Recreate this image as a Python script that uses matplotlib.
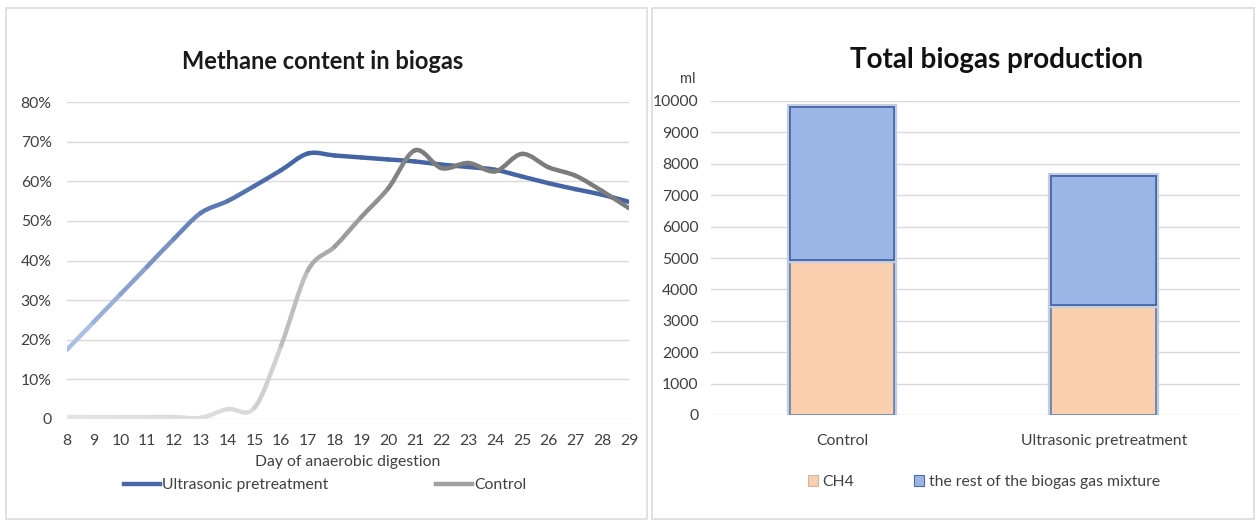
import matplotlib.pyplot as plt
import numpy as np
from matplotlib.path import Path
from matplotlib.patches import PathPatch, Rectangle
from matplotlib.lines import Line2D
import matplotlib.patheffects as pe
from matplotlib.colors import to_rgb

plt.rcParams['font.family'] = ['Lato', 'DejaVu Sans']

# methane content, % of biogas, per day of digestion
days = np.arange(8, 30)
ultrasonic = [17.5, 24.5, 31.5, 38.5, 45.5, 52.0, 55.0, 58.8, 62.8, 67.0, 66.5,
              66.0, 65.5, 65.0, 64.2, 63.6, 62.9, 61.2, 59.5, 58.0, 56.6, 54.8]
control = [0.5, 0.5, 0.5, 0.5, 0.5, 0.3, 2.5, 2.8, 18.5, 37.5, 43.5,
           51.0, 58.2, 67.8, 63.3, 64.6, 62.5, 66.9, 63.5, 61.4, 57.5, 53.2]
pct_ticks = [0, 10, 20, 30, 40, 50, 60, 70, 80]
pct_labels = ['0', '10%', '20%', '30%', '40%', '50%', '60%', '70%', '80%']

# total biogas, ml
groups = ['Control', 'Ultrasonic pretreatment']
ch4 = [4950, 3500]
rest = [4850, 4100]
ml_ticks = list(range(0, 10001, 1000))

TXT = '#404040'
GRID = '#d9d9d9'
FS = 11.3


def smooth_segments(x, y):
    # one cubic bezier per interval, excel-style smoothing
    pts = np.column_stack([x, y]).astype(float)
    padded = np.vstack([pts[0], pts, pts[-1]])
    segs = []
    for i in range(len(pts) - 1):
        p0, p1, p2, p3 = padded[i], padded[i + 1], padded[i + 2], padded[i + 3]
        c1 = p1 + (p2 - p0) / 6
        c2 = p2 - (p3 - p1) / 6
        segs.append(Path([p1, c1, c2, p2],
                         [Path.MOVETO, Path.CURVE4, Path.CURVE4, Path.CURVE4]))
    return segs


def mix(c1, c2, t):
    a, b = np.array(to_rgb(c1)), np.array(to_rgb(c2))
    return tuple(a + (b - a) * t)


def draw_fading(ax, x, y, light, dark, stops, weights):
    for i, seg in enumerate(smooth_segments(x, y)):
        mid = (x[i] + x[i + 1]) / 2
        t = np.interp(mid, stops, weights)
        ax.add_patch(PathPatch(seg, fill=False, edgecolor=mix(light, dark, t),
                               lw=3.2, capstyle='round', joinstyle='round',
                               zorder=3))


fig = plt.figure(figsize=(12.59, 5.20), dpi=100)

# panel frames
for x0, x1 in [(6, 647), (652, 1254)]:
    fig.add_artist(Rectangle((x0 / 1259, 1 / 520), (x1 - x0) / 1259, 511 / 520,
                             transform=fig.transFigure, fill=False,
                             edgecolor='#dcdcdc', lw=1.2))

# ---- left: methane content
ax = fig.add_axes([67 / 1259, 101 / 520, 562 / 1259, 317 / 520])
draw_fading(ax, days, ultrasonic, '#b3c6e7', '#4564a4',
            [8, 13, 17, 29], [0, 0.75, 1, 1])
draw_fading(ax, days, control, '#e4e4e4', '#7c7c7c',
            [8, 15, 17.5, 21, 29], [0, 0.1, 0.55, 1, 1])
ax.set_xlim(8, 29)
ax.set_ylim(0, 80)
ax.set_xticks(days)
ax.set_xticklabels([str(d) for d in days])
ax.set_yticks(pct_ticks)
ax.set_yticklabels(pct_labels)
ax.grid(axis='y', color=GRID, lw=1)
ax.set_axisbelow(True)
for s in ax.spines.values():
    s.set_visible(False)
ax.tick_params(length=0, labelsize=FS, colors=TXT)
ax.tick_params(axis='y', pad=11)
ax.tick_params(axis='x', pad=11)
ax.set_xlabel('Day of anaerobic digestion', fontsize=FS, color=TXT, labelpad=5)
ax.set_title('Methane content in biogas', fontsize=17, fontweight='bold',
             color='#1a1a1a', pad=24, x=0.455)
handles = [Line2D([], [], color='#4a68a8', lw=3.2),
           Line2D([], [], color='#a0a0a0', lw=3.2)]
fig.legend(handles, ['Ultrasonic pretreatment', 'Control'], loc='center',
           bbox_to_anchor=(325 / 1259, 1 - 485 / 520), ncol=2, frameon=False,
           fontsize=FS, handlelength=2.3, handletextpad=0.1,
           columnspacing=6.9, labelcolor=TXT)

# ---- right: total biogas production
bx = fig.add_axes([711 / 1259, 105 / 520, 529 / 1259, 314 / 520])
pos = np.arange(len(groups))
glow = [pe.withStroke(linewidth=4.5, foreground='#c3cde0'), pe.Normal()]
b1 = bx.bar(pos, ch4, width=0.4, color='#f9cfae', edgecolor='#6f86b4',
            lw=1.3, zorder=3, label='CH4')
b2 = bx.bar(pos, rest, width=0.4, bottom=ch4, color='#9bb5e7',
            edgecolor='#4a69a8', lw=1.3, zorder=3,
            label='the rest of the biogas gas mixture')
for r in list(b1) + list(b2):
    r.set_path_effects(glow)
bx.set_xlim(-0.5, 1.52)
bx.set_ylim(0, 10000)
bx.set_xticks(pos)
bx.set_xticklabels(groups)
bx.set_yticks(ml_ticks)
bx.grid(axis='y', color=GRID, lw=1)
bx.set_axisbelow(True)
for s in bx.spines.values():
    s.set_visible(False)
bx.tick_params(length=0, labelsize=FS, colors=TXT)
bx.tick_params(axis='y', pad=9)
bx.tick_params(axis='x', pad=14)
bx.set_title('Total biogas production', fontsize=20, fontweight='bold',
             color='#111111', pad=24, x=0.54)
bx.text(-0.03, 1.07, 'ml', transform=bx.transAxes, ha='right', va='center',
        fontsize=10.5, color=TXT)
leg_handles = [Rectangle((0, 0), 1, 1, facecolor='#f9cfae', edgecolor='#c9b7a8', lw=0.8),
               Rectangle((0, 0), 1, 1, facecolor='#9bb5e7', edgecolor='#4a69a8', lw=0.8)]
fig.legend(leg_handles, ['CH4', 'the rest of the biogas gas mixture'],
           loc='center', bbox_to_anchor=(984 / 1259, 1 - 482 / 520), ncol=2,
           frameon=False, fontsize=FS, handlelength=0.65, handleheight=0.65,
           handletextpad=0.3, columnspacing=3.8, labelcolor=TXT)

fig.savefig('out.png', dpi=100, facecolor='white')
